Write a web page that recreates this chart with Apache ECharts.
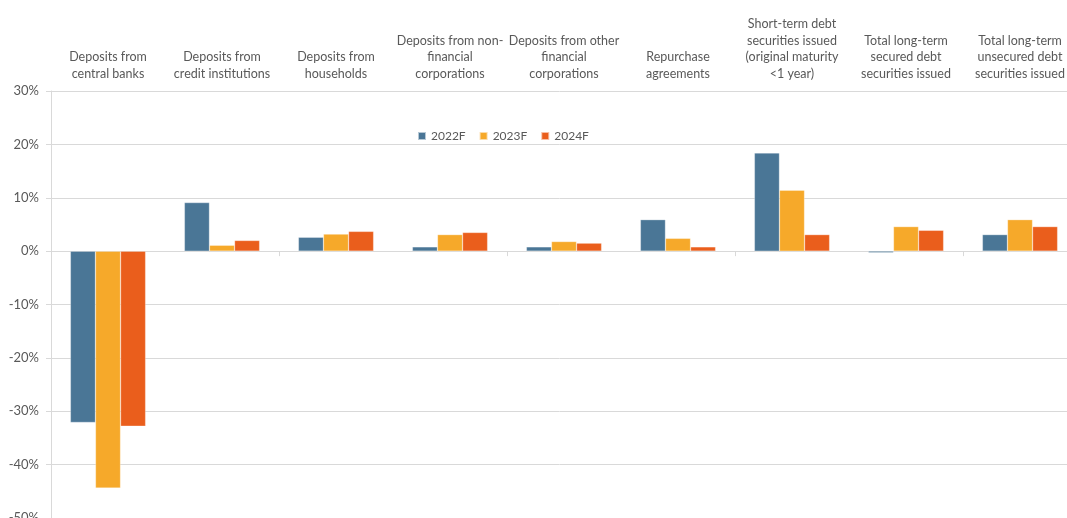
<!DOCTYPE html>
<html>
<head>
<meta charset="utf-8">
<script src="https://cdn.jsdelivr.net/npm/echarts@6/dist/echarts.min.js"></script>
<style>
html, body { margin: 0; padding: 0; background: #fff; }
#main { width: 1067px; height: 518px; }
</style>
</head>
<body>
<div id="main"></div>
<script>
// 类别与数据
var categories = [
    'Deposits from\ncentral banks',
    'Deposits from\ncredit institutions',
    'Deposits from\nhouseholds',
    'Deposits from non-\nfinancial\ncorporations',
    'Deposits from other\nfinancial\ncorporations',
    'Repurchase\nagreements',
    'Short-term debt\nsecurities issued\n(original maturity\n<1 year)',
    'Total long-term\nsecured debt\nsecurities issued',
    'Total long-term\nunsecured debt\nsecurities issued'
];
var seriesNames = ['2022F', '2023F', '2024F'];
var data2022 = [-32.1, 9.1, 2.6, 0.8, 0.8, 5.9, 18.4, -0.3, 3.1];
var data2023 = [-44.4, 1.1, 3.2, 3.1, 1.8, 2.4, 11.4, 4.6, 5.9];
var data2024 = [-32.8, 2.0, 3.7, 3.5, 1.5, 0.8, 3.1, 3.9, 4.6];
var yTicks = [-50, -40, -30, -20, -10, 0, 10, 20, 30];

var colors = ['#4a7696', '#f6a92a', '#ea5e1c'];
var font = 'Lato, "Open Sans", sans-serif';

var myChart = echarts.init(document.getElementById('main'));

function barSeries(name, values) {
    return {
        name: name,
        type: 'bar',
        xAxisIndex: 0,
        barGap: '0%',
        barCategoryGap: '34%',
        itemStyle: { borderColor: 'rgba(255,255,255,0.6)', borderWidth: 0.5 },
        data: values
    };
}

myChart.setOption({
    animation: false,
    color: colors,
    textStyle: { fontFamily: font },
    legend: {
        data: seriesNames,
        left: 412,
        top: 125,
        itemWidth: 8,
        itemHeight: 8,
        itemGap: 13,
        icon: 'rect',
        textStyle: { color: '#595959', fontSize: 12, fontFamily: font }
    },
    grid: {
        left: 51,
        right: -10,
        top: 91,
        bottom: 0,
        outerBoundsMode: 'none',
        containLabel: false
    },
    xAxis: [
        {
            type: 'category',
            data: categories,
            position: 'bottom',
            axisLine: { onZero: true, lineStyle: { color: '#d9d9d9', width: 1 } },
            axisTick: { show: true, length: 5, lineStyle: { color: '#d9d9d9' } },
            axisLabel: { show: false }
        },
        {
            type: 'category',
            data: categories,
            position: 'top',
            axisLine: { show: false },
            axisTick: { show: false },
            axisLabel: {
                interval: 0,
                hideOverlap: false,
                margin: 9,
                color: '#595959',
                fontSize: 12.5,
                lineHeight: 16.5,
                fontFamily: font
            }
        }
    ],
    yAxis: {
        type: 'value',
        min: yTicks[0],
        max: yTicks[yTicks.length - 1],
        interval: 10,
        axisLine: { show: true, lineStyle: { color: '#d9d9d9' } },
        axisTick: { show: true, length: 5, lineStyle: { color: '#d9d9d9' } },
        splitLine: { lineStyle: { color: '#d9d9d9' } },
        axisLabel: {
            formatter: '{value}%',
            color: '#595959',
            fontSize: 13,
            margin: 12,
            fontFamily: font
        }
    },
    series: [
        barSeries(seriesNames[0], data2022),
        barSeries(seriesNames[1], data2023),
        barSeries(seriesNames[2], data2024)
    ]
});
</script>
</body>
</html>
